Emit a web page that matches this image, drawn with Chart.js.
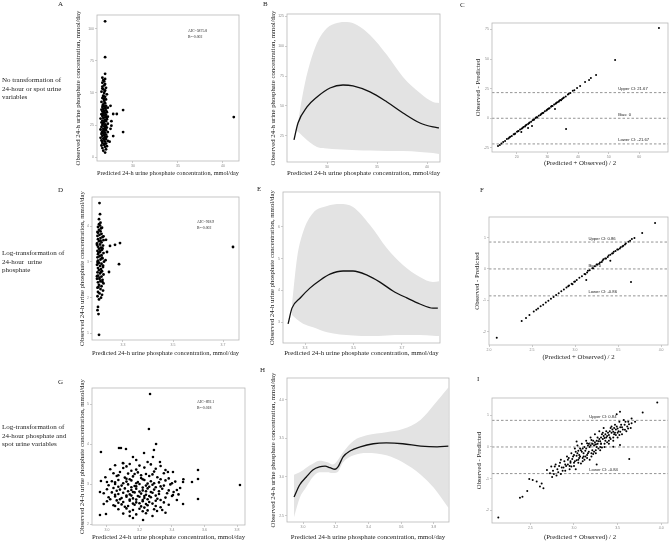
<!DOCTYPE html>
<html>
<head>
<meta charset="utf-8">
<script src="https://cdn.jsdelivr.net/npm/chart.js@4.4.0/dist/chart.umd.min.js"></script>
<style>
  body { margin: 0; background: #fff; }
  #fig { position: relative; width: 669px; height: 542px; overflow: hidden; font-family: "Liberation Serif", "Times New Roman", serif; color: #222; }
  #fig canvas { position: absolute; }
  .lbl { position: absolute; white-space: pre; will-change: transform; }
  .letter { font-size: 7px; line-height: 7px; }
  .row { font-size: 7px; line-height: 8.5px; left: 2px; }
  .aic { font-size: 3.8px; line-height: 5.6px; }
</style>
</head>
<body>
<div id="fig">
  <div class="lbl letter" style="left:58px;top:1px">A</div>
  <div class="lbl letter" style="left:263px;top:1px">B</div>
  <div class="lbl letter" style="left:460px;top:2px">C</div>
  <div class="lbl letter" style="left:58px;top:187px">D</div>
  <div class="lbl letter" style="left:257px;top:186px">E</div>
  <div class="lbl letter" style="left:480px;top:187px">F</div>
  <div class="lbl letter" style="left:58px;top:379px">G</div>
  <div class="lbl letter" style="left:260px;top:367px">H</div>
  <div class="lbl letter" style="left:477px;top:376px">I</div>

  <div class="lbl row" style="top:76px">No transformation of
24-hour or spot urine
variables</div>
  <div class="lbl row" style="top:249px">Log-transformation of
24-hour  urine
phosphate</div>
  <div class="lbl row" style="top:423px">Log-transformation of
24-hour phosphate and
spot urine variables</div>

  <div class="lbl aic" style="left:188px;top:29px">AIC=5875.8
R²=0.002</div>
  <div class="lbl aic" style="left:197px;top:220px">AIC=918.9
R²=0.002</div>
  <div class="lbl aic" style="left:197px;top:399.5px">AIC=892.1
R²=0.018</div>
</div>

<script>
// ---- panel A: predicted vs observed, raw scale ----
const scatterA = [[26.9,3.5],[26.7,5],[27.0,6],[26.6,7],[26.9,8],[27.1,8.5],[26.5,9],[26.8,10],[27.0,10.5],[26.6,11],
  [26.9,12],[27.2,12.5],[26.5,13],[26.8,13.5],[27.0,14],[26.7,14.5],[26.4,15],[26.9,15.5],[27.1,16],[26.6,16.5],
  [26.8,17],[27.0,17.5],[26.5,18],[26.7,18.5],[26.9,19],[27.2,19.5],[26.6,20],[26.8,20.5],[27.0,21],[26.4,21.5],
  [26.7,22],[26.9,22.5],[27.1,23],[26.5,23.5],[26.8,24],[27.0,24.5],[26.6,25],[26.9,25.5],[27.2,26],[26.7,26.5],
  [26.5,27],[26.8,27.5],[27.0,28],[26.6,28.5],[26.9,29],[27.1,29.5],[26.4,30],[26.7,30.5],[26.9,31],[27.2,31.5],
  [26.6,32],[26.8,32.5],[27.0,33],[26.5,33.5],[26.7,34],[26.9,34.5],[27.1,35],[26.6,35.5],[26.8,36],[27.0,36.5],
  [26.5,37],[26.7,37.5],[26.9,38],[27.2,38.5],[26.6,39],[26.8,39.5],[27.0,40],[26.7,41],[26.9,42],[26.5,43],
  [26.8,44],[27.0,45],[26.6,46],[26.9,47],[26.7,48],[27.1,49],[26.8,50],[26.5,51],[26.9,52],[26.7,53],
  [27.0,54],[26.6,55],[26.8,56],[26.9,57],[26.6,58],[26.8,59],[26.7,60],[26.9,61],[26.6,62],[26.9,65],
  [26.9,78],[26.9,106],
  [26.55,19.2],[26.75,21.2],[26.95,23.7],[26.65,26.2],[26.85,28.7],[27.05,31.2],[26.55,33.2],[26.75,35.7],
  [26.95,38.2],[26.65,40.5],[26.85,42.5],[26.75,45.5],[26.95,15],[26.6,12.2],[26.8,9.5],[26.7,47.5],
  [26.85,51.5],[26.6,53.5],
  [27.5,22],[27.8,16.4],[27.8,33.6],[28.2,33.6],[28.9,36.7],[28.9,19.5],[27.6,28],[27.5,40],[27.4,12],
  [27.6,24.5],[41.2,31.2]];

// ---- panel B: fitted curve with 95% band, raw scale ----
const bPred = [26.7, 27.1, 28.0, 29.0, 30.3, 31.6, 32.6, 34.3, 36.0, 37.6, 39.3, 40.6, 41.2];
const bFit = [21.7, 35.8, 49.2, 57.5, 65, 67.5, 66.7, 61.7, 53.3, 44.2, 35.8, 32.5, 31.7];
const bBandX = [27.0, 27.3, 27.8, 28.3, 29.0, 30.0, 31.0, 32.0, 33.0, 34.3, 36.0, 37.6, 39.3, 40.6, 41.2];
const bUpper = [30, 46.7, 69.2, 85.8, 102.5, 115, 119.2, 120, 117.5, 109.2, 92.5, 74.2, 60.8, 53.3, 52.5];
const bLower = [29.2, 27, 23, 19.5, 15.8, 14.5, 13.9, 13.5, 13.2, 12.8, 12.5, 12.5, 11.7, 10.7, 10];

// ---- panel C: Bland-Altman, raw scale ----
const baC = [[13.9,-23.4],[15.0,-21.3],[15.6,-20.0],[16.2,-19.2],[16.8,-17.6],[17.3,-17.1],[17.9,-15.6],[18.4,-15.0],
  [19.0,-13.5],[19.5,-12.9],[20.1,-11.4],[20.6,-10.8],[21.1,-9.5],[21.6,-8.9],[22.2,-7.4],[22.7,-6.9],[23.2,-5.5],
  [23.7,-4.9],[24.2,-3.6],[24.7,-2.9],[25.2,-1.6],[25.7,-1.1],[26.2,0.3],[26.7,0.8],[27.2,2.1],[27.7,2.7],[28.2,4.0],
  [28.7,4.6],[29.2,5.9],[29.7,6.5],[30.2,7.8],[30.7,8.4],[31.2,9.7],[31.7,10.3],[32.2,11.6],[32.7,12.2],[33.2,13.5],
  [33.7,14.0],[34.2,15.4],[34.8,16.3],[35.4,17.6],[36.0,18.5],[36.7,20.1],[37.5,21.3],[38.3,23.2],[39.7,25.6],
  [40.7,27.3],[42.3,30.7],[43.6,32.3],[44.2,34.0],[45.9,36.6],[52.1,49.2],[66.4,76.3],
  [14.5,-22.6],[17.6,-16.2],[20.4,-11.0],[22.9,-6.2],[25.5,-1.3],[27.9,3.4],[30.5,8.3],[32.9,12.9],[35.1,16.9],
  [19.3,-13.4],[24.0,-4.3],[28.5,4.5],[31.4,10.3],[33.9,14.9],[29.9,7.2],[26.4,0.9],[21.9,-8.2],[34.5,15.2],
  [37.0,20.7],[38.8,23.7],
  [36.1,-9.0],[23.7,-8.2],[32.5,7.9],[21.5,-11.6],[25.0,-6.5]];
const limitsC = [21.67, 0, -21.67];
const limitTextC = ['Upper CI: 21.67', 'Bias: 0', 'Lower CI: -21.67'];

// ---- panel D: log 24-h urine phosphate ----
const scatterD = [[3.204,1.95],[3.212,2.0],[3.198,2.04],[3.216,2.08],[3.206,2.12],[3.2,2.16],[3.22,2.2],[3.21,2.24],
  [3.198,2.28],[3.214,2.32],[3.204,2.36],[3.222,2.4],[3.2,2.43],[3.21,2.46],[3.218,2.5],[3.196,2.53],[3.206,2.56],
  [3.214,2.59],[3.2,2.62],[3.222,2.65],[3.208,2.68],[3.198,2.71],[3.216,2.74],[3.204,2.77],[3.212,2.8],[3.2,2.83],
  [3.22,2.86],[3.208,2.89],[3.196,2.92],[3.214,2.95],[3.204,2.98],[3.224,3.01],[3.2,3.04],[3.21,3.07],[3.218,3.1],
  [3.198,3.13],[3.206,3.16],[3.214,3.19],[3.2,3.22],[3.222,3.25],[3.208,3.28],[3.198,3.31],[3.216,3.34],[3.204,3.37],
  [3.212,3.4],[3.2,3.43],[3.22,3.46],[3.208,3.49],[3.196,3.52],[3.214,3.55],[3.204,3.58],[3.222,3.61],[3.2,3.64],
  [3.21,3.67],[3.218,3.7],[3.198,3.73],[3.206,3.76],[3.214,3.79],[3.2,3.82],[3.21,3.86],[3.204,3.9],[3.212,3.94],
  [3.2,3.98],[3.208,4.02],[3.204,4.06],[3.21,4.1],
  [3.202,2.3],[3.218,2.44],[3.196,2.6],[3.212,2.72],[3.22,2.9],[3.198,3.0],[3.216,3.12],[3.202,3.26],[3.218,3.38],
  [3.196,3.48],[3.21,3.6],[3.222,3.72],[3.198,3.84],[3.216,3.96],[3.206,2.52],[3.2,2.96],[3.21,3.32],
  [3.206,4.65],[3.208,4.34],[3.204,4.2],[3.2,1.74],[3.198,1.65],[3.202,1.54],[3.204,0.96],[3.268,3.48],[3.288,3.53],
  [3.248,3.45],[3.284,2.94],[3.244,2.72],[3.236,3.28],[3.232,3.62],[3.23,3.05],[3.74,3.42]];

// ---- panel E ----
const ePred = [3.23, 3.246, 3.28, 3.32, 3.362, 3.403, 3.457, 3.498, 3.556, 3.609, 3.663, 3.72, 3.774, 3.828, 3.848];
const eFit = [2.94, 3.44, 3.76, 4.07, 4.32, 4.51, 4.61, 4.61, 4.48, 4.26, 3.98, 3.76, 3.57, 3.44, 3.44];
const eBandX = [3.246, 3.267, 3.292, 3.333, 3.391, 3.444, 3.498, 3.568, 3.638, 3.704, 3.774, 3.828, 3.853];
const eUpper = [3.54, 5.02, 5.84, 6.44, 6.66, 6.72, 6.63, 6.06, 5.33, 4.80, 4.42, 4.26, 4.29];
const eLower = [3.22, 3.08, 2.95, 2.84, 2.68, 2.61, 2.58, 2.56, 2.58, 2.59, 2.59, 2.57, 2.56];

// ---- panel F ----
const baF = [[2.57,-1.26],[2.60,-1.19],[2.63,-1.14],[2.66,-1.07],[2.69,-1.02],[2.72,-0.95],[2.75,-0.90],[2.78,-0.83],
  [2.81,-0.78],[2.84,-0.71],[2.87,-0.66],[2.90,-0.59],[2.93,-0.53],[2.96,-0.47],[2.99,-0.41],[3.02,-0.35],[3.05,-0.28],
  [3.08,-0.23],[3.11,-0.16],[3.14,-0.11],[3.17,-0.04],[3.20,0.02],[3.23,0.09],[3.26,0.14],[3.29,0.21],[3.32,0.27],
  [3.35,0.33],[3.38,0.38],[3.41,0.45],[3.44,0.50],[3.47,0.57],[3.50,0.62],[3.53,0.69],[3.56,0.74],[3.59,0.81],
  [3.62,0.87],[3.64,0.90],[3.66,0.96],
  [3.15,-0.06],[3.25,0.14],[3.33,0.31],[3.36,0.33],[3.45,0.55],[3.49,0.62],[3.52,0.65],[3.55,0.72],[3.58,0.78],
  [3.28,0.17],[3.21,0.02],[3.12,-0.17],[3.0,-0.40],[2.92,-0.55],[3.39,0.43],[3.43,0.49],[3.31,0.22],
  [2.09,-2.20],[2.38,-1.66],[2.43,-1.57],[2.47,-1.47],[2.52,-1.36],[2.55,-1.30],[3.69,0.99],[3.78,1.15],
  [3.93,1.47],[3.65,-0.42],[3.41,0.26],[3.13,-0.35],[2.97,-0.49]];
const limitsF = [0.86, 0, -0.86];
const limitTextF = ['Upper CI: 0.86', 'Bias: 0', 'Lower CI: -0.86'];

// ---- panel G ----
const scatterG = [[3.05,3.47],[3.14,3.5],[3.2,3.46],[3.27,3.49],[3.33,3.45],[3.1,3.52],
  [3.02,3.37],[3.1,3.4],[3.18,3.36],[3.23,3.41],[3.3,3.38],[3.36,3.35],[3.15,3.33],
  [3.04,3.27],[3.08,3.3],[3.13,3.26],[3.19,3.29],[3.24,3.25],[3.29,3.31],[3.35,3.27],[3.21,3.22],
  [2.99,3.17],[3.06,3.2],[3.11,3.16],[3.16,3.19],[3.21,3.15],[3.26,3.2],[3.31,3.17],[3.38,3.14],[3.14,3.12],
  [3.03,3.07],[3.07,3.1],[3.12,3.06],[3.15,3.09],[3.19,3.05],[3.23,3.1],[3.27,3.07],[3.32,3.04],[3.36,3.09],[3.42,3.06],[3.1,3.02],[3.25,3.01],
  [3.01,2.97],[3.05,3.0],[3.09,2.96],[3.13,2.99],[3.17,2.95],[3.2,3.0],[3.24,2.96],[3.28,2.98],[3.33,2.94],[3.39,2.99],[3.15,2.92],[3.22,2.91],[3.3,2.92],
  [3.0,2.87],[3.04,2.9],[3.08,2.86],[3.11,2.89],[3.15,2.85],[3.18,2.88],[3.22,2.84],[3.25,2.89],[3.29,2.86],[3.34,2.88],[3.38,2.84],[3.13,2.82],[3.2,2.81],[3.27,2.8],
  [2.98,2.77],[3.03,2.79],[3.07,2.75],[3.1,2.78],[3.14,2.74],[3.17,2.79],[3.21,2.76],[3.24,2.73],[3.28,2.78],[3.32,2.75],[3.37,2.77],[3.44,2.74],[3.12,2.71],[3.19,2.7],[3.26,2.7],
  [3.01,2.67],[3.05,2.69],[3.09,2.65],[3.12,2.68],[3.16,2.64],[3.2,2.68],[3.23,2.65],[3.27,2.67],[3.31,2.63],[3.36,2.66],[3.14,2.61],[3.22,2.6],
  [3.0,2.57],[3.06,2.59],[3.1,2.55],[3.14,2.58],[3.18,2.54],[3.22,2.57],[3.26,2.55],[3.3,2.58],[3.35,2.54],[3.16,2.51],[3.24,2.5],
  [3.04,2.47],[3.09,2.49],[3.13,2.45],[3.17,2.48],[3.21,2.44],[3.25,2.47],[3.3,2.45],[3.38,2.48],
  [3.07,2.37],[3.12,2.39],[3.16,2.35],[3.2,2.38],[3.25,2.34],[3.29,2.37],[3.34,2.35],
  [3.1,2.26],[3.18,2.24],[3.24,2.27],[3.14,2.2],[3.28,2.2],
  [3.07,3.22],[3.17,3.25],[3.28,3.24],[3.12,3.13],[3.22,3.12],[3.33,3.12],[3.05,3.04],[3.18,3.02],[3.29,3.02],[3.4,3.02],
  [3.07,2.93],[3.18,2.94],[3.26,2.93],[3.35,2.96],[3.06,2.83],[3.16,2.8],[3.24,2.82],[3.32,2.82],[3.41,2.8],
  [3.05,2.73],[3.15,2.71],[3.23,2.7],[3.3,2.71],[3.4,2.7],[3.08,2.62],[3.18,2.61],[3.25,2.62],[3.33,2.6],
  [3.07,2.53],[3.2,2.52],[3.28,2.51],[3.11,2.43],[3.23,2.41],[3.33,2.42],[3.14,2.31],[3.22,2.32],[3.02,2.62],[3.45,2.9],
  [3.47,3.12],[3.12,3.44],[3.25,3.55],[3.18,3.6],[3.05,2.45],[2.98,2.5],[3.36,2.28],[3.43,2.6],
  [3.265,5.25],[3.258,4.375],[2.963,3.8],[3.074,3.9],[3.086,3.9],[3.117,3.875],[3.302,4.0],[3.228,3.775],
  [3.289,3.85],[3.283,3.675],[3.326,3.55],[3.16,3.675],[3.098,3.525],[2.963,3.075],[2.957,2.8],[3.0,3.05],
  [2.957,2.225],[2.994,2.25],[3.375,3.3],[3.406,3.3],[3.468,3.05],[3.523,3.05],[3.56,3.125],[3.56,2.625],
  [3.468,2.5],[3.43,2.85],[3.406,2.725],[3.222,2.1],[3.16,2.15],[3.308,2.325],[3.818,2.975],[3.56,3.35]];

// ---- panel H ----
const hPred = [2.945, 2.98, 3.02, 3.06, 3.10, 3.135, 3.165, 3.196, 3.214, 3.245, 3.29, 3.35, 3.43, 3.51, 3.61, 3.72, 3.82, 3.89];
const hFit = [2.74, 2.90, 3.00, 3.09, 3.13, 3.14, 3.12, 3.10, 3.13, 3.26, 3.34, 3.39, 3.43, 3.44, 3.43, 3.40, 3.39, 3.40];
const hBandX = [2.945, 2.98, 3.02, 3.06, 3.10, 3.15, 3.18, 3.21, 3.245, 3.31, 3.39, 3.51, 3.61, 3.72, 3.80, 3.89];
const hUpper = [3.03, 3.06, 3.12, 3.17, 3.21, 3.19, 3.16, 3.21, 3.32, 3.47, 3.54, 3.58, 3.62, 3.74, 3.93, 4.16];
const hLower = [2.48, 2.73, 2.87, 3.00, 3.06, 3.06, 3.05, 3.06, 3.19, 3.28, 3.31, 3.28, 3.19, 3.03, 2.86, 2.60];

// ---- panel I ----
const baI = [[2.75,-0.95],[2.76,-0.75],[2.74,-0.62],[2.77,-0.85],[2.80,-0.9],[2.81,-0.7],[2.79,-0.55],[2.82,-0.8],
  [2.85,-0.85],[2.86,-0.65],[2.84,-0.5],[2.87,-0.75],[2.85,-0.4],[2.9,-0.75],[2.91,-0.6],[2.89,-0.45],[2.92,-0.3],[2.9,-0.55],
  [2.95,-0.7],[2.96,-0.5],[2.94,-0.35],[2.97,-0.2],[2.95,-0.6],[2.96,-0.45],[3.0,-0.6],[3.01,-0.45],[2.99,-0.3],[3.02,-0.15],
  [3.0,-0.5],[3.01,-0.05],[3.05,-0.5],[3.06,-0.35],[3.04,-0.2],[3.07,-0.05],[3.05,-0.4],[3.06,-0.25],[3.04,0.05],
  [3.1,-0.45],[3.11,-0.3],[3.09,-0.15],[3.12,0.0],[3.1,-0.35],[3.11,-0.2],[3.09,0.1],
  [3.15,-0.35],[3.16,-0.2],[3.14,-0.05],[3.17,0.1],[3.15,-0.25],[3.16,0.05],[3.14,0.2],
  [3.2,-0.3],[3.21,-0.1],[3.19,0.05],[3.22,0.2],[3.2,-0.2],[3.21,0.1],[3.19,0.3],
  [3.25,-0.2],[3.26,0.0],[3.24,0.15],[3.27,0.3],[3.25,-0.1],[3.26,0.2],[3.24,0.4],
  [3.3,-0.1],[3.31,0.1],[3.29,0.25],[3.32,0.4],[3.3,0.0],[3.31,0.3],[3.29,0.5],
  [3.35,0.0],[3.36,0.2],[3.34,0.35],[3.37,0.5],[3.35,0.1],[3.36,0.4],[3.34,0.6],
  [3.4,0.1],[3.41,0.3],[3.39,0.45],[3.42,0.6],[3.4,0.2],[3.41,0.5],[3.45,0.2],[3.46,0.4],[3.44,0.55],[3.47,0.7],[3.45,0.3],[3.46,0.6],
  [3.5,0.3],[3.51,0.5],[3.49,0.65],[3.52,0.8],[3.5,0.45],[3.55,0.4],[3.56,0.55],[3.54,0.7],[3.57,0.85],
  [3.6,0.5],[3.61,0.65],[3.59,0.8],[3.65,0.6],[3.66,0.75],[3.7,0.8],
  [2.98,-0.38],[3.03,-0.28],[3.08,-0.1],[3.13,-0.12],[3.18,0.0],[3.23,0.05],[3.28,0.18],[3.33,0.25],[3.38,0.35],
  [3.43,0.45],[3.48,0.55],[3.53,0.62],[3.58,0.7],[3.03,-0.42],[3.13,-0.3],[3.23,-0.15],[3.33,0.45],[3.43,0.65],
  [3.08,-0.52],[3.18,-0.4],[3.28,-0.05],[3.38,0.15],[3.48,0.38],[2.88,-0.65],[2.93,-0.4],[3.53,0.48],[3.63,0.72],
  [2.83,-0.6],[2.93,-0.55],[3.0,-0.25],[3.05,-0.12],[3.1,-0.05],[3.15,0.12],[3.2,0.22],[3.25,0.08],[3.3,0.18],
  [3.35,0.28],[3.4,0.38],[3.45,0.48],[3.5,0.58],[3.55,0.62],[3.12,-0.4],[3.22,-0.22],[3.32,-0.02],[3.42,0.25],
  [3.52,0.38],[3.07,-0.3],[3.17,-0.15],[3.27,0.1],[3.37,0.3],[3.47,0.45],[3.62,0.58],[2.97,-0.62],[3.02,-0.7],[2.78,-0.62],
  [2.133,-2.23],[2.381,-1.60],[2.41,-1.57],[2.465,-1.39],[2.488,-1.01],[2.527,-1.04],[2.573,-1.09],[2.61,-1.25],
  [2.63,-1.15],[2.65,-1.30],[2.69,-0.73],[2.725,-0.83],[3.954,1.40],[3.787,1.09],[3.633,-0.38],[3.66,0.90],
  [3.527,0.06],[3.45,0.01],[3.584,0.54],[3.527,1.11],[3.489,1.03],[3.622,0.80],[3.03,0.17],[3.26,-0.55]];
const limitsI = [0.84, 0, -0.84];
const limitTextI = ['Upper CI: 0.84', 'Bias: 0', 'Lower CI: -0.84'];

const fig = document.getElementById('fig');
const SERIF = '"Liberation Serif", "Times New Roman", serif';
const SANS = '"Liberation Sans", Arial, sans-serif';
const OBS_T = 'Observed 24-h urine phosphate concentration, mmol/day';
const PRED_T = 'Predicted 24-h urine phosphate concentration, mmol/day';
const DIFF_T = 'Observed - Predicted';
const MEAN_T = '(Predicted + Observed) / 2';

// grey frame round the plotting area
const boxPlugin = {
  id: 'box',
  afterDraw(chart) {
    const a = chart.chartArea, ctx = chart.ctx;
    ctx.save();
    ctx.strokeStyle = '#b8b8b8';
    ctx.lineWidth = 0.8;
    ctx.strokeRect(a.left, a.top, a.right - a.left, a.bottom - a.top);
    ctx.restore();
  }
};

// "Upper CI / Bias / Lower CI" labels, under the points
const ciPlugin = {
  id: 'ciLabels',
  beforeDatasetsDraw(chart, args, opts) {
    if (!opts || !opts.values) return;
    const ctx = chart.ctx, xs = chart.scales.x, ys = chart.scales.y;
    ctx.save();
    ctx.font = '4.2px ' + SANS;
    ctx.fillStyle = '#222';
    ctx.textBaseline = 'bottom';
    opts.values.forEach((v, i) => {
      ctx.fillText(opts.texts[i], xs.getPixelForValue(opts.x), ys.getPixelForValue(v) - 1.5);
    });
    ctx.restore();
  }
};

function axis(range, ticks, dec, title, size, horiz) {
  return {
    type: 'linear',
    min: range[0],
    max: range[1],
    afterBuildTicks: s => { s.ticks = ticks.map(v => ({ value: v })); },
    afterFit: s => { if (horiz) s.height = size; else s.width = size; },
    ticks: { font: { size: 3.5, family: SANS }, color: '#8a8a8a', padding: 1, autoSkip: false, maxRotation: 0,
      callback: v => v.toFixed(dec) },
    grid: { drawOnChartArea: false, tickLength: 2, color: '#aaa', lineWidth: 0.6 },
    border: { display: false },
    title: { display: true, text: title, font: { size: 6.8, family: SERIF, lineHeight: 1.2 }, color: '#222', padding: 0 }
  };
}

function panel(r, yW, xH, xr, yr, xt, yt, dec, titles, datasets, ci) {
  const padT = 12, padR = 4;
  const w = r.r - r.l + yW + padR, h = r.b - r.t + padT + xH;
  const cv = document.createElement('canvas');
  cv.width = w; cv.height = h;
  cv.style.left = (r.l - yW) + 'px';
  cv.style.top = (r.t - padT) + 'px';
  cv.style.width = w + 'px';
  cv.style.height = h + 'px';
  fig.appendChild(cv);
  new Chart(cv, {
    type: 'scatter',
    data: { datasets },
    options: {
      responsive: false,
      animation: false,
      devicePixelRatio: 1,
      layout: { padding: { top: padT, right: padR, left: 0, bottom: 0 } },
      plugins: { legend: { display: false }, tooltip: { enabled: false }, ciLabels: ci || {} },
      scales: {
        x: axis(xr, xt, dec[0], titles[0], xH, true),
        y: axis(yr, yt, dec[1], titles[1], yW, false)
      }
    },
    plugins: [boxPlugin, ciPlugin]
  });
}

const pts = arr => arr.map(p => ({ x: p[0], y: p[1] }));
const xy = (xs, ys) => xs.map((x, i) => ({ x, y: ys[i] }));
const dots = (arr, r) => ({ data: pts(arr), pointRadius: r, backgroundColor: '#000', borderColor: '#000', pointBorderWidth: 0 });
const curve = (xs, ys) => ({ type: 'line', data: xy(xs, ys), borderColor: '#111', borderWidth: 1.3, pointRadius: 0,
  cubicInterpolationMode: 'monotone', fill: false });
const band = (xs, up, lo) => [
  { type: 'line', data: xy(xs, up), borderColor: 'rgba(0,0,0,0)', backgroundColor: '#e3e3e3', pointRadius: 0,
    cubicInterpolationMode: 'monotone', fill: '+1' },
  { type: 'line', data: xy(xs, lo), borderColor: 'rgba(0,0,0,0)', pointRadius: 0,
    cubicInterpolationMode: 'monotone', fill: false }
];
const hline = (v, xr) => ({ type: 'line', data: [{ x: xr[0], y: v }, { x: xr[1], y: v }], borderColor: '#666',
  borderWidth: 0.7, borderDash: [2.5, 2], pointRadius: 0, fill: false });

// A
panel({ l: 97, t: 15, r: 239, b: 161 }, 23, 16, [26.0, 41.78], [-3.1, 110.9], [30, 35, 40], [0, 25, 50, 75, 100],
  [0, 0], [PRED_T, OBS_T], [dots(scatterA, 1.4)]);
// B
panel({ l: 287, t: 14, r: 440, b: 162 }, 18, 15, [26.0, 41.3], [3.3, 126.7], [30, 35, 40], [25, 50, 75, 100, 125],
  [0, 0], [PRED_T, OBS_T], [curve(bPred, bFit), ...band(bBandX, bUpper, bLower)]);
// C
const xrC = [11.94, 69.36];
panel({ l: 492, t: 23, r: 668, b: 152 }, 18, 15, xrC, [-28.5, 80.5], [20, 30, 40, 50, 60], [-25, 0, 25, 50, 75],
  [0, 0], [MEAN_T, DIFF_T], [dots(baC, 1.0), ...limitsC.map(v => hline(v, xrC))],
  { x: 53.1, values: limitsC, texts: limitTextC });
// D
panel({ l: 92, t: 197, r: 239, b: 340 }, 14, 17, [3.176, 3.764], [0.815, 4.82], [3.3, 3.5, 3.7], [1, 2, 3, 4],
  [1, 0], [PRED_T, OBS_T], [dots(scatterD, 1.4)]);
// E
panel({ l: 283, t: 192, r: 440, b: 343 }, 15, 14, [3.209, 3.857], [2.34, 7.1], [3.3, 3.5, 3.7], [3, 4, 5, 6],
  [1, 0], [PRED_T, OBS_T], [curve(ePred, eFit), ...band(eBandX, eUpper, eLower)]);
// F
const xrF = [2.0, 4.08];
panel({ l: 489, t: 217, r: 668, b: 345 }, 16, 16, xrF, [-2.43, 1.66], [2.0, 2.5, 3.0, 3.5, 4.0], [-2, -1, 0, 1],
  [1, 0], [MEAN_T, DIFF_T], [dots(baF, 1.0), ...limitsF.map(v => hline(v, xrF))],
  { x: 3.155, values: limitsF, texts: limitTextF });
// G
panel({ l: 92, t: 388, r: 245, b: 525 }, 14, 16, [2.908, 3.849], [1.975, 5.4], [3.0, 3.2, 3.4, 3.6, 3.8], [2, 3, 4, 5],
  [1, 0], [PRED_T, OBS_T], [dots(scatterG, 1.3)]);
// H
panel({ l: 287, t: 378, r: 449, b: 522 }, 18, 19, [2.902, 3.893], [2.418, 4.28], [3.0, 3.2, 3.4, 3.6, 3.8], [2.5, 3.0, 3.5, 4.0],
  [1, 1], [PRED_T, OBS_T], [curve(hPred, hFit), ...band(hBandX, hUpper, hLower)]);
// I
const xrI = [2.061, 4.077];
panel({ l: 492, t: 398, r: 668, b: 523 }, 17, 18, xrI, [-2.40, 1.546], [2.5, 3.0, 3.5, 4.0], [-2, -1, 0, 1],
  [1, 0], [MEAN_T, DIFF_T], [dots(baI, 1.0), ...limitsI.map(v => hline(v, xrI))],
  { x: 3.175, values: limitsI, texts: limitTextI });
</script>
</body>
</html>
